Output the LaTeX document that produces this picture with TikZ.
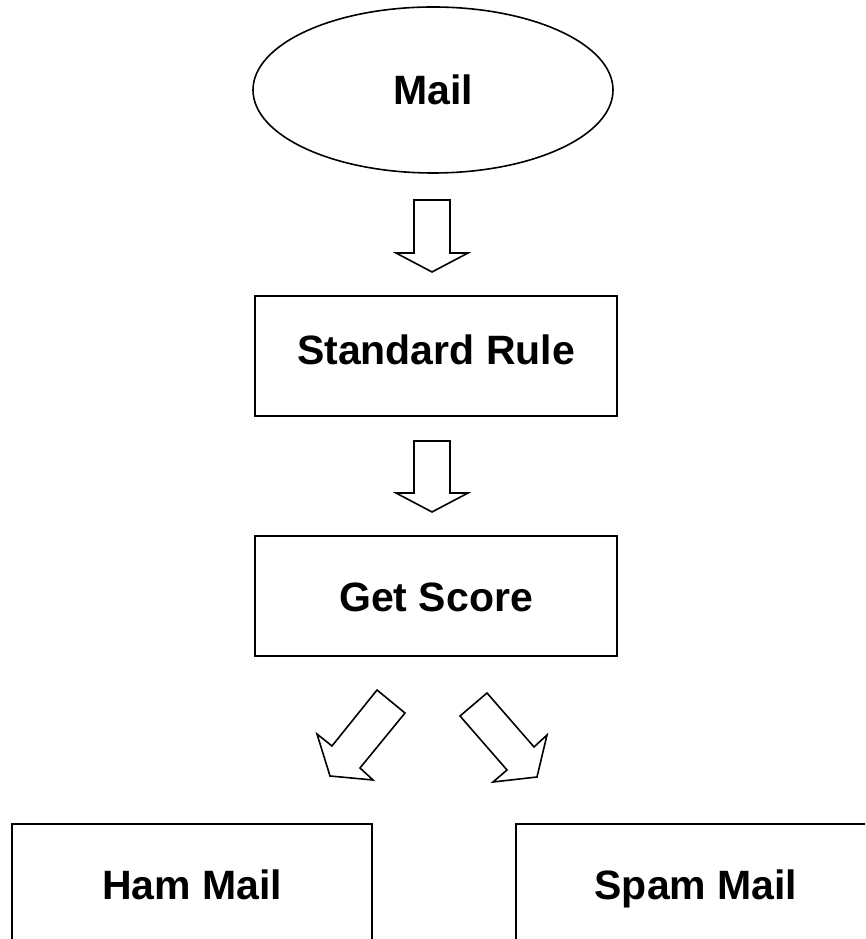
\documentclass[tikz,border=0pt]{standalone}
\usepackage{fontspec}
\setmainfont{Liberation Sans}
\usetikzlibrary{shapes.geometric}

\begin{document}
\begin{tikzpicture}[x=1pt, y=1pt, line width=1.6pt, line join=miter,
	box/.style={draw, rectangle, minimum width=362pt, minimum height=120pt, inner sep=0pt,
		text height=31pt, text depth=0pt, font=\fontsize{41}{49}\selectfont\bfseries},
	oval/.style={draw, ellipse, minimum width=360pt, minimum height=166pt, inner sep=0pt,
		font=\fontsize{41}{49}\selectfont\bfseries},
	hollow/.style={draw, fill=white, line width=1.6pt}]
	\clip (0,0) rectangle (865,939);
	\node[oval] (Mail) at (433,849) {Mail};
	\node[box, text height=32pt, text depth=14pt] (Rule) at (436,583) {Standard Rule};
	\node[box] (Score) at (436,343) {Get Score};
	\node[box, minimum width=360pt] (Ham) at (192,55) {Ham Mail};
	\node[box, minimum width=360pt] (Spam) at (696,55) {Spam Mail};
	% block arrows
	\draw[hollow] (414,739) -- (450,739) -- (450,686) -- (468,686) -- (432,667) -- (396,686) -- (414,686) -- cycle;
	\draw[hollow] (414,498) -- (450,498) -- (450,446) -- (468,446) -- (432,427) -- (396,446) -- (414,446) -- cycle;
	\draw[hollow] (377,249) -- (405,226) -- (360,171) -- (373,159) -- (330,163) -- (317,205) -- (332,193) -- cycle;
	\draw[hollow] (487,246) -- (460,223) -- (507,169) -- (493,157) -- (537,162) -- (547,204) -- (534,192) -- cycle;
\end{tikzpicture}
\end{document}
